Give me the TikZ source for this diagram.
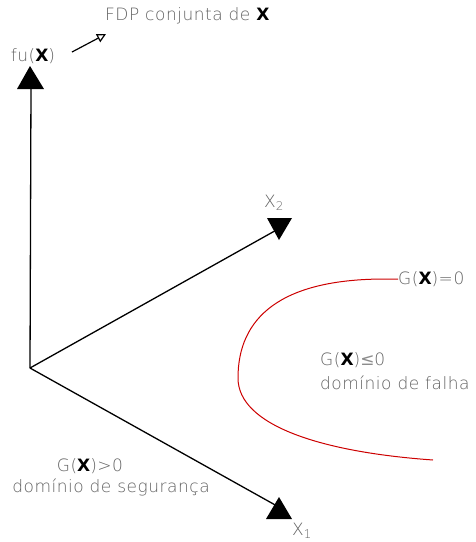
\documentclass[tikz,border=0pt]{standalone}
\usepackage{fontspec}
\usetikzlibrary{arrows.meta}
\newfontfamily\thinf{DejaVu Sans ExtraLight}[LetterSpace=3]
\newfontfamily\boldf{DejaVu Sans}
\newcommand{\BX}{{\boldf\bfseries\color{black}X}}
\newcommand{\LE}{{\boldf\color{black!45}≤}}
\begin{document}
\begin{tikzpicture}[x=1pt,y=-1pt,
  lbl/.style={font=\thinf\fontsize{17}{19}\selectfont, text=black!62, inner sep=0pt},
  axis/.style={line width=1.3pt, black},
  tri/.style={fill=black}]
\useasboundingbox (0,0) rectangle (475,542);
% origin
\coordinate (O) at (30,368);
\coordinate (yend) at (31,86);
\coordinate (x2end) at (280,228);
\coordinate (x1end) at (277,506);
\draw[axis] (O) -- (yend);
\draw[axis] (O) -- (x2end);
\draw[axis] (O) -- (x1end);
% triangles
\fill[tri] (30,66) -- (17,89) -- (44,89) -- cycle;
\fill[tri] (267,218) -- (292,218) -- (279,240) -- cycle;
\fill[tri] (279,497) -- (266,519) -- (292,519) -- cycle;
% labels
\node[lbl] (fu) at (33,56) {fu(\BX)};
\node[lbl, anchor=west] (fdp) at (105,16) {FDP conjunta de \BX};
\coordinate (ars) at (72,52);
\coordinate (are) at (106,34);
\draw[line width=1.2pt, -{Triangle[open,length=9pt,width=9pt,line width=1.2pt]}] (ars) -- (are);
\node[lbl] (x2) at (274,203) {X\textsubscript{2}};
\node[lbl] (x1) at (302,531) {X\textsubscript{1}};
% red curve
\draw[red!80!black, line width=1pt] (398,279) -- (385,279) .. controls (280,279) and (238,318) .. (238,378)
   .. controls (238,425) and (320,452) .. (433,460);
\node[lbl, anchor=west] (g0) at (398,279) {G(\BX)=0};
\node[lbl, anchor=west] (gle) at (320,360) {G(\BX)\LE0};
\node[lbl, anchor=west] (df) at (320,383) {domínio de falha};
\node[lbl] (ggt) at (90,466) {G(\BX)>0};
\node[lbl] (ds) at (111,487) {domínio de segurança};
\end{tikzpicture}
\end{document}
